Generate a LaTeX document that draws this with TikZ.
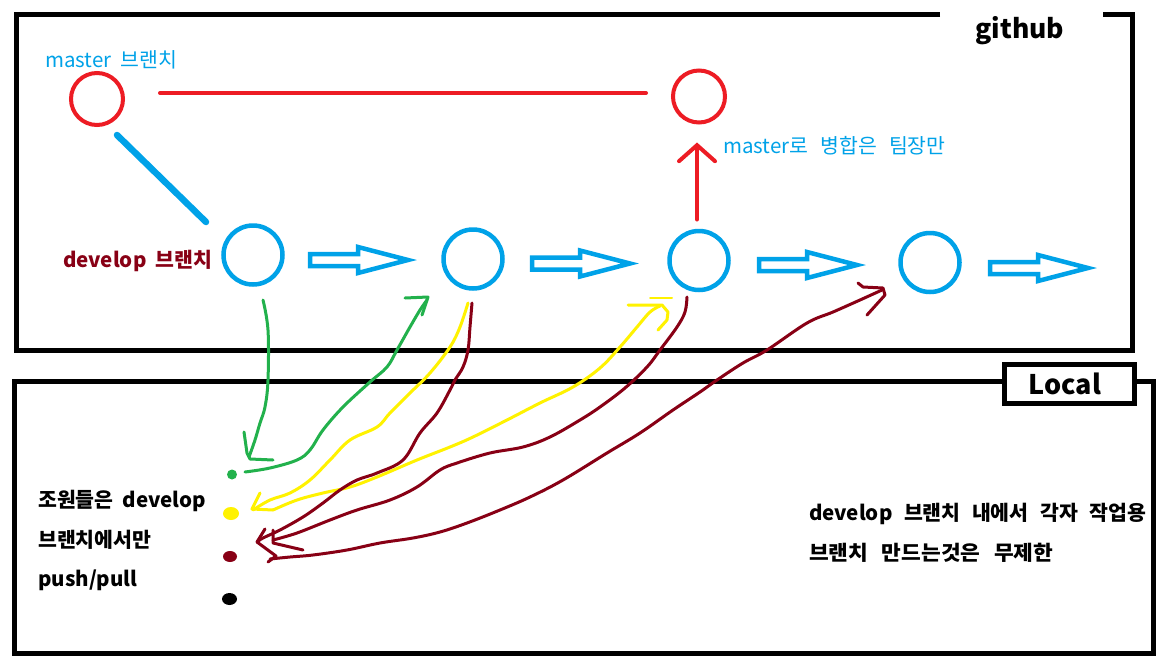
\documentclass[tikz,border=0pt]{standalone}
\usepackage{graphicx}
\usepackage{fontspec}
\setmainfont{Noto Sans CJK KR}[WordSpace=1.9]
\usetikzlibrary{arrows.meta}
\definecolor{pblue}{RGB}{0,162,232}
\definecolor{pred}{RGB}{237,28,36}
\definecolor{pdred}{RGB}{136,0,21}
\definecolor{pgreen}{RGB}{34,177,76}
\definecolor{pyellow}{RGB}{255,242,0}
\tikzset{
  frame/.style={line width=5pt, draw=black, line cap=butt, line join=miter},
  mcirc/.style={circle, draw=pred, line width=4pt, minimum size=52pt, inner sep=0pt},
  dcirc/.style={circle, draw=pblue, line width=4.5pt, minimum size=59pt, inner sep=0pt},
  hollow/.style={draw=pblue, line width=4.5pt, line join=miter},
  harrow/.pic={\draw[hollow] (0,-6) -- (48,-6) -- (48,-13) -- (98,0) -- (48,13) -- (48,6) -- (0,6) -- cycle;},
  hand/.style={line width=3pt, line cap=round, line join=round},
  bluelbl/.style={text=pblue, font=\fontsize{20.5pt}{24pt}\selectfont, inner sep=0pt, anchor=base west},
  blacklbl/.style={text=black, font=\bfseries\fontsize{20.5pt}{24pt}\selectfont, inner sep=0pt, anchor=base west}
}
\begin{document}
\begin{tikzpicture}[x=1pt,y=-1pt]
\useasboundingbox (0,0) rectangle (1165,667);
\fill[white] (0,0) rectangle (1165,667);

% frames
\draw[frame] (940,14.5) -- (16.5,14.5) -- (16.5,350) -- (1132.5,350) -- (1132.5,14.5) -- (1103,14.5);
\draw[frame] (1004,381) -- (14,381) -- (14,653) -- (1153.5,653) -- (1153.5,381) -- (1134.5,381);
\node[frame, draw, minimum width=130.5pt, minimum height=39pt, inner sep=0pt] (localbox) at (1069.25,383.5) {};
\node[font=\bfseries\fontsize{27pt}{30pt}\selectfont, inner sep=0pt] (local) at (1065,384) {Local};
\node[font=\bfseries\fontsize{26.5pt}{30pt}\selectfont, inner sep=0pt, anchor=base] (github) at (1020,38) {github};

% github nodes
\node[mcirc] (m1) at (97,99) {};
\node[mcirc] (m2) at (699,96.5) {};
\node[dcirc] (c1) at (253,255) {};
\node[dcirc] (c2) at (473,259) {};
\node[dcirc] (c3) at (699,260.5) {};
\node[dcirc] (c4) at (930,262.5) {};

\node[bluelbl] (mlabel) at (45,67) {master 브랜치};
\node[bluelbl] (mergelabel) at (723,153) {\spaceskip=12pt master로 병합은 팀장만};
\node[blacklbl, text=pdred] (dlabel) at (63,267) {develop 브랜치};

\draw[pred, line width=4pt, line cap=round] ([xshift=35pt,yshift=6pt]m1.east) -- ([xshift=-25pt,yshift=3.5pt]m2.west);
\draw[pblue, line width=6.5pt, line cap=round] ([shift={(20,36)}]m1.center) -- ([shift={(-47,-33)}]c1.center);
\draw[pred, line width=4pt, line cap=round, -{Straight Barb[length=16pt,width=36pt,line cap=round]}] ([shift={(-2,-41)}]c3.center) -- ([shift={(-2,46)}]m2.center);

\pic at (310,260) {harrow};
\pic at (532,263.5) {harrow};
\pic at (759,265) {harrow};
\pic at (990,268) {harrow};

% local
\node[blacklbl] (t1) at (38,507) {조원들은 develop};
\node[blacklbl] (t2) at (38,547) {브랜치에서만};
\node[blacklbl] (t3) at (38,586) {push/pull};
\node[blacklbl] (t4) at (809,520) {\spaceskip=11.5pt develop 브랜치 내에서 각자 작업용};
\node[blacklbl] (t5) at (809,560) {\scalebox{1.045}[1]{\spaceskip=13pt 브랜치 만드는것은 무제한}};

\fill[pgreen] (232,474.5) circle (5);
\coordinate (dg) at (232,474.5);
\fill[pyellow] (231,513.5) ellipse (8 and 6.5);
\coordinate (dy) at (231,513.5);
\fill[pdred] (230,556.5) ellipse (7 and 5.5);
\coordinate (dr) at (230,556.5);
\fill[black] (229.5,599) ellipse (7.5 and 6);
\coordinate (dk) at (229.5,599);

% green
\draw[hand, pgreen] plot[smooth, tension=0.6] coordinates {(263,300) (268,330) (268,380) (265,407) (260,423) (255,440) (249,457)};
\draw[hand, pgreen] (244,432) -- (247,453) -- (250,459) -- (273,460);
\draw[hand, pgreen] plot[smooth, tension=0.6] coordinates {(245,472) (270,468) (297,460) (310,450) (323,430) (343,407) (370,382) (387,367) (397,350) (410,327) (420,310) (427,300)};
\draw[hand, pgreen] (405,298) -- (428,297) -- (422,315);

% yellow
\draw[hand, pyellow] plot[smooth, tension=0.6] coordinates {(468,303) (460,327) (450,347) (430,373) (410,393) (390,413) (377,427) (350,440) (330,460) (310,480) (290,493) (270,500) (253,510)};
\draw[hand, pyellow] plot[smooth, tension=0.6] coordinates {(273,510) (297,500) (323,493) (350,487) (377,477) (417,460) (450,447) (473,437) (507,420) (540,403) (573,387) (600,368) (620,347) (637,327) (650,312) (660,306)};
\draw[hand, pyellow] (260,493) -- (252,509) -- (273,510);
\draw[hand, pyellow] (628,305) -- (662,305) -- (668,312) -- (667,320) -- (658,330);
\draw[hand, pyellow, line width=2pt] (650,298) -- (672,298);

% dark red
\draw[hand, pdred] plot[smooth, tension=0.6] coordinates {(472,303) (470,327) (468,350) (463,367) (455,380) (450,390) (437,413) (420,433) (403,460) (377,473) (357,480) (340,490) (323,503) (303,517) (280,530) (263,538) (257,542)};
\draw[hand, pdred] plot[smooth, tension=0.6] coordinates {(687,297) (685,312) (677,327) (660,350) (647,367) (625,388) (600,407) (580,420) (550,437) (523,447) (490,453) (457,463) (440,470) (417,487) (390,500) (357,510) (330,520) (297,533) (273,540)};
\draw[hand, pdred] plot[smooth, tension=0.6] coordinates {(270,559) (290,557) (313,555) (347,550) (380,543) (413,538) (440,532) (467,523) (500,510) (530,497) (563,480) (607,453) (640,433) (673,410) (700,392) (717,380) (743,363) (767,350) (807,323) (833,312) (860,300) (882,290)};
\draw[hand, pdred] (265,529) -- (257,542) -- (276,556) -- (268,562);
\draw[hand, pdred] (273,530) -- (273,543) -- (303,550);
\draw[hand, pdred] (858,283) -- (863,287) -- (883,288) -- (885,295) -- (867,315);
\end{tikzpicture}
\end{document}
